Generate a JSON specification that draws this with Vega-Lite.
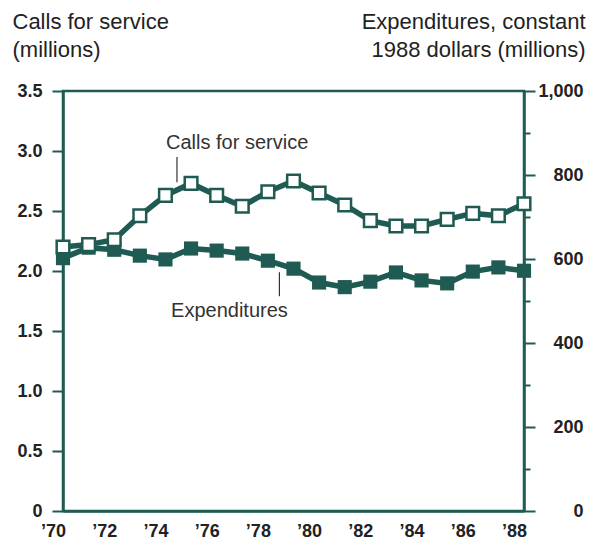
{
  "$schema": "https://vega.github.io/schema/vega-lite/v6.json",
  "width": 461,
  "height": 420,
  "autosize": {"type": "none"},
  "padding": {"left": 63, "top": 91, "right": 69, "bottom": 36},
  "background": "white",
  "config": {
    "view": {"stroke": "#1f5b52", "strokeWidth": 2.5},
    "font": "Liberation Sans",
    "axis": {
      "labelFont": "Liberation Sans",
      "labelFontWeight": "bold",
      "labelFontSize": 18,
      "labelColor": "#222222",
      "domainColor": "#1f5b52",
      "domainWidth": 2.5,
      "tickColor": "#1f5b52",
      "tickWidth": 2,
      "grid": false,
      "titleFont": "Liberation Sans",
      "titleFontWeight": "normal",
      "titleFontSize": 22,
      "titleColor": "#222222",
      "titleLineHeight": 28
    }
  },
  "datasets": {
    "series": [
      {"year": 70, "calls": 2.20, "exp": 602},
      {"year": 71, "calls": 2.22, "exp": 627},
      {"year": 72, "calls": 2.26, "exp": 622},
      {"year": 73, "calls": 2.46, "exp": 608},
      {"year": 74, "calls": 2.63, "exp": 599},
      {"year": 75, "calls": 2.73, "exp": 625},
      {"year": 76, "calls": 2.63, "exp": 620},
      {"year": 77, "calls": 2.54, "exp": 613},
      {"year": 78, "calls": 2.66, "exp": 596},
      {"year": 79, "calls": 2.75, "exp": 577},
      {"year": 80, "calls": 2.65, "exp": 544},
      {"year": 81, "calls": 2.55, "exp": 533},
      {"year": 82, "calls": 2.42, "exp": 546},
      {"year": 83, "calls": 2.375, "exp": 568},
      {"year": 84, "calls": 2.375, "exp": 549},
      {"year": 85, "calls": 2.43, "exp": 542},
      {"year": 86, "calls": 2.48, "exp": 570},
      {"year": 87, "calls": 2.46, "exp": 580},
      {"year": 88, "calls": 2.56, "exp": 572}
    ],
    "notes": [
      {"label": "Calls for service", "tx": 76.8, "ty": 3.07, "lx": 74.45, "ly1": 2.95, "ly2": 2.74},
      {"label": "Expenditures", "tx": 76.5, "ty": 1.67, "lx": 78.45, "ly1": 1.99, "ly2": 1.79}
    ]
  },
  "encoding": {
    "x": {
      "field": "year",
      "type": "quantitative",
      "scale": {"domain": [70, 88], "nice": false, "zero": false},
      "axis": {
        "values": [70, 72, 74, 76, 78, 80, 82, 84, 86, 88],
        "labelExpr": "'\u2019' + datum.value",
        "labelFlush": false,
        "labelOffset": -10,
        "ticks": false,
        "labelPadding": 11,
        "title": null
      }
    }
  },
  "layer": [
    {
      "layer": [
        {
          "data": {"name": "series"},
          "mark": {"type": "line", "color": "#1f5b52", "strokeWidth": 5.5},
          "encoding": {
            "y": {
              "field": "exp",
              "type": "quantitative",
              "scale": {"domain": [0, 1000], "nice": false},
              "axis": {
                "orient": "right",
                "values": [0, 100, 200, 300, 400, 500, 600, 700, 800, 900, 1000],
                "labelExpr": "datum.value % 200 == 0 ? format(datum.value, ',') : ''",
                "tickSize": {"condition": {"test": "datum.value % 200 == 0", "value": 11}, "value": 6},
                "labelAlign": "right",
                "labelPadding": 48,
                "title": ["Expenditures, constant", "1988 dollars (millions)"],
                "titleAngle": 0,
                "titleAlign": "right",
                "titleBaseline": "top",
                "titleX": 61,
                "titleY": -80
              }
            }
          }
        },
        {
          "data": {"name": "series"},
          "mark": {"type": "point", "shape": "square", "filled": true, "color": "#1f5b52", "size": 200, "opacity": 1},
          "encoding": {"y": {"field": "exp", "type": "quantitative"}}
        }
      ]
    },
    {
      "layer": [
        {
          "data": {"name": "series"},
          "mark": {"type": "line", "color": "#1f5b52", "strokeWidth": 5.5},
          "encoding": {
            "y": {
              "field": "calls",
              "type": "quantitative",
              "scale": {"domain": [0, 3.5], "nice": false},
              "axis": {
                "orient": "left",
                "values": [0, 0.25, 0.5, 0.75, 1, 1.25, 1.5, 1.75, 2, 2.25, 2.5, 2.75, 3, 3.25, 3.5],
                "labelExpr": "datum.value == 0 ? '0' : (datum.value * 2 == floor(datum.value * 2) ? format(datum.value, '.1f') : '')",
                "tickSize": {"condition": {"test": "datum.value * 2 == floor(datum.value * 2)", "value": 11}, "value": 6},
                "labelPadding": 10,
                "title": ["Calls for service", "(millions)"],
                "titleAngle": 0,
                "titleAlign": "left",
                "titleBaseline": "top",
                "titleX": -51,
                "titleY": -80
              }
            }
          }
        },
        {
          "data": {"name": "series"},
          "mark": {"type": "point", "shape": "square", "filled": true, "fill": "white", "stroke": "#1f5b52", "strokeWidth": 2.5, "size": 160, "opacity": 1},
          "encoding": {"y": {"field": "calls", "type": "quantitative"}}
        },
        {
          "data": {"name": "notes"},
          "mark": {"type": "rule", "color": "#333333", "strokeWidth": 1.2},
          "encoding": {
            "x": {"field": "lx", "type": "quantitative"},
            "y": {"field": "ly1", "type": "quantitative"},
            "y2": {"field": "ly2"}
          }
        },
        {
          "data": {"name": "notes"},
          "mark": {"type": "text", "fontSize": 20, "color": "#333333", "align": "center", "baseline": "middle", "font": "Liberation Sans"},
          "encoding": {
            "x": {"field": "tx", "type": "quantitative"},
            "y": {"field": "ty", "type": "quantitative"},
            "text": {"field": "label"}
          }
        }
      ]
    }
  ],
  "resolve": {"scale": {"y": "independent"}}
}
